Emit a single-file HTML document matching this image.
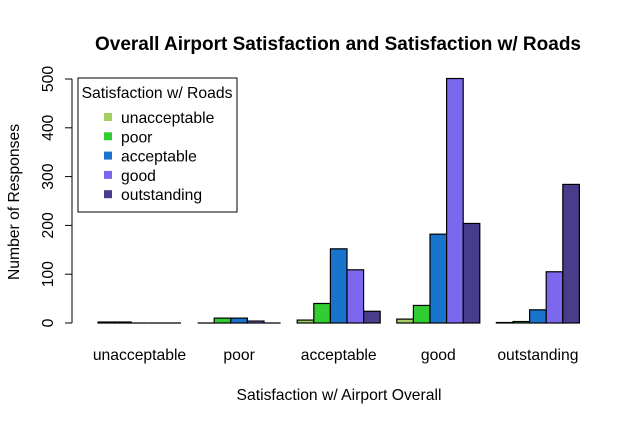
<!DOCTYPE html>
<html><head><meta charset="utf-8"><style>
body{margin:0;background:#fff}
svg{display:block;font-family:"Liberation Sans",Arial,sans-serif}
</style></head><body>
<svg id="chart" width="640" height="424">
<rect width="640" height="424" fill="#fff"/>
<text x="338" y="50" text-anchor="middle" font-size="19" font-weight="bold">Overall Airport Satisfaction and Satisfaction w/ Roads</text>
<text x="339" y="400" text-anchor="middle" font-size="15.7">Satisfaction w/ Airport Overall</text>
<text transform="translate(19,202) rotate(-90)" text-anchor="middle" font-size="15.7">Number of Responses</text>
<g id="bars"></g>
<g id="yaxis"></g>
<g id="xlabels"></g>
<g>
<rect x="78" y="78" width="159" height="134" fill="#fff" stroke="#000"/>
<text x="157" y="98" text-anchor="middle" font-size="15.7">Satisfaction w/ Roads</text>
<g id="legend-items"></g>
</g>
</svg>
<script>
const categories=["unacceptable","poor","acceptable","good","outstanding"];
const seriesNames=["unacceptable","poor","acceptable","good","outstanding"];
const colors=["#a2cf60","#32cd32","#1874cd","#7b68ee","#483d8b"];
const s_unacceptable=[2,0,6,8,1];
const s_poor=[2,10,40,36,3];
const s_acceptable=[0,10,152,182,27];
const s_good=[0,4,109,501,105];
const s_outstanding=[0,0,24,204,284];
const series=[s_unacceptable,s_poor,s_acceptable,s_good,s_outstanding];
const yTicks=[0,100,200,300,400,500];
const NS="http://www.w3.org/2000/svg";
const y0=323, yPer=244/500, bw=16.6, x0=98;
const y=v=>y0-v*yPer;
const gx=i=>x0+i*6*bw;
function mk(t,a,p){const e=document.createElementNS(NS,t);for(const k in a)e.setAttribute(k,a[k]);p.appendChild(e);return e;}
const bars=document.getElementById('bars');
categories.forEach((c,i)=>{series.forEach((s,j)=>{
 let r;
 if(s[i]>0){
  r=mk('rect',{x:gx(i)+j*bw,y:y(s[i]),width:bw,height:s[i]*yPer,fill:colors[j],stroke:'#000','stroke-width':1.2},bars);
 }else{
  r=mk('line',{x1:gx(i)+j*bw,x2:gx(i)+(j+1)*bw,y1:y0,y2:y0,stroke:'#000','stroke-width':1.2},bars);
 }
 
 
});
 const t=mk('text',{x:gx(i)+2.5*bw,y:360,'text-anchor':'middle','font-size':15.7},document.getElementById('xlabels'));
 t.textContent=c;
 
 
});
const ya=document.getElementById('yaxis');
mk('line',{x1:72,x2:72,y1:y(yTicks[0]),y2:y(yTicks[yTicks.length-1]),stroke:'#000'},ya);
yTicks.forEach(v=>{
 mk('line',{x1:65,x2:72,y1:y(v),y2:y(v),stroke:'#000'},ya);
 const t=mk('text',{transform:`translate(53,${y(v)}) rotate(-90)`,'text-anchor':'middle','font-size':15.7},ya);
 t.textContent=v;
 
 
});
const li=document.getElementById('legend-items');
seriesNames.forEach((n,j)=>{
 const yy=118+j*19.3;
 const r=mk('rect',{x:104,y:yy-5,width:8,height:8,fill:colors[j]},li);
 
 
 const t=mk('text',{x:121,y:yy+5,'font-size':15.7},li);
 t.textContent=n;
 
 
});
</script>
</body></html>
